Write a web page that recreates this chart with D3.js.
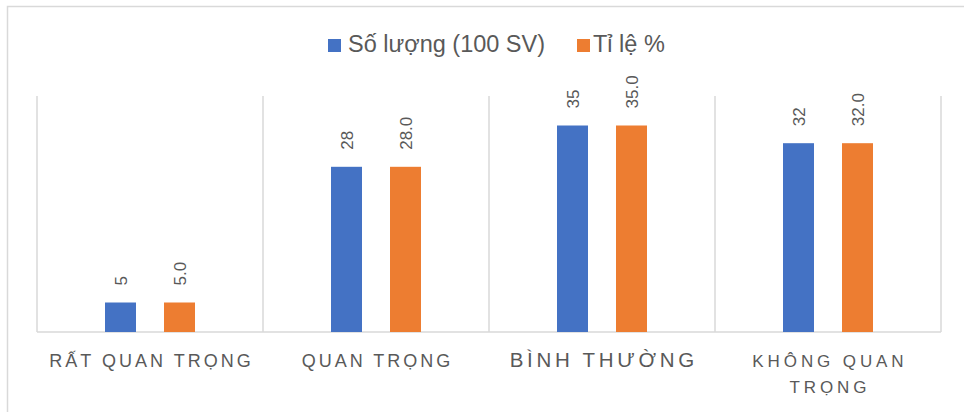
<!DOCTYPE html>
<html>
<head>
<meta charset="utf-8">
<script src="https://cdn.jsdelivr.net/npm/d3@7"></script>
<style>
  html, body { margin: 0; padding: 0; background: #fff; }
  svg { display: block; font-family: "Liberation Sans", Arial, sans-serif; }
</style>
</head>
<body>
<svg id="chart" width="964" height="412"></svg>
<script>
// Survey results: importance ratings
const categories = [["RẤT QUAN TRỌNG"], ["QUAN TRỌNG"], ["BÌNH THƯỜNG"], ["KHÔNG QUAN", "TRỌNG"]];
const categorySizes = [18, 18, 20.5, 17];
const categorySpacing = [3, 3, 3.7, 3.9];
const seriesNames = ["Số lượng (100 SV)", "Tỉ lệ %"];
const soLuong = [5, 28, 35, 32];
const tiLe = [5.0, 28.0, 35.0, 32.0];
const seriesColors = ["#4472C4", "#ED7D31"];
const yMax = 40;

const svg = d3.select("#chart");
const W = 964, H = 412;
const plot = { left: 37, right: 941, top: 96, bottom: 332 };

// outer chart frame (only top and left edges visible)
svg.append("rect")
  .attr("x", 7.5).attr("y", 6.5)
  .attr("width", W + 10).attr("height", H + 10)
  .attr("fill", "none").attr("stroke", "#d9d9d9").attr("stroke-width", 1.5);

const x0 = d3.scaleBand().domain(d3.range(categories.length))
  .range([plot.left, plot.right]).paddingInner(0).paddingOuter(0);
const y = d3.scaleLinear().domain([0, yMax]).range([plot.bottom, plot.top]);

// category boundary lines
const bounds = d3.range(categories.length + 1).map(i => plot.left + i * x0.bandwidth());
svg.append("g").selectAll("line").data(bounds).join("line")
  .attr("x1", d => d).attr("x2", d => d)
  .attr("y1", plot.top).attr("y2", plot.bottom)
  .attr("stroke", "#d9d9d9").attr("stroke-width", 1.5);

// baseline
svg.append("line")
  .attr("x1", plot.left).attr("x2", plot.right)
  .attr("y1", plot.bottom).attr("y2", plot.bottom)
  .attr("stroke", "#d9d9d9").attr("stroke-width", 1.5);

const barW = 31;
const seriesOffset = [-29.5, 29.5];
const series = [soLuong, tiLe];
const fmt = [d => d3.format("d")(d), d => d3.format(".1f")(d)];

series.forEach((vals, s) => {
  const g = svg.append("g");
  g.selectAll("rect").data(vals).join("rect")
    .attr("x", (d, i) => x0(i) + x0.bandwidth() / 2 + seriesOffset[s] - barW / 2)
    .attr("width", barW)
    .attr("y", d => y(d))
    .attr("height", d => y(0) - y(d))
    .attr("fill", seriesColors[s]);
  g.selectAll("text").data(vals).join("text")
    .attr("transform", (d, i) => {
      const cx = x0(i) + x0.bandwidth() / 2 + seriesOffset[s];
      return `translate(${cx + 6},${y(d) - 17}) rotate(-90)`;
    })
    .attr("text-anchor", "start")
    .attr("font-size", 17)
    .attr("fill", "#595959")
    .text(d => fmt[s](d));
});

// category labels
categories.forEach((lines, i) => {
  const t = svg.append("text")
    .attr("x", x0(i) + x0.bandwidth() / 2)
    .attr("y", 367)
    .attr("text-anchor", "middle")
    .attr("font-size", categorySizes[i])
    .attr("letter-spacing", categorySpacing[i])
    .attr("fill", "#595959");
  lines.forEach((ln, j) => {
    t.append("tspan")
      .attr("x", x0(i) + x0.bandwidth() / 2 + categorySpacing[i] / 2)
      .attr("y", 367 + j * 26)
      .text(ln);
  });
});

// legend
const legend = [
  { name: seriesNames[0], color: seriesColors[0], x: 328, textX: 348 },
  { name: seriesNames[1], color: seriesColors[1], x: 577, textX: 593 }
];
const lg = svg.append("g");
legend.forEach(l => {
  lg.append("rect").attr("x", l.x).attr("y", 39).attr("width", 13).attr("height", 13).attr("fill", l.color);
  lg.append("text").attr("x", l.textX).attr("y", 52).attr("font-size", 23.5)
    .attr("fill", "#595959").text(l.name);
});
</script>
</body>
</html>
